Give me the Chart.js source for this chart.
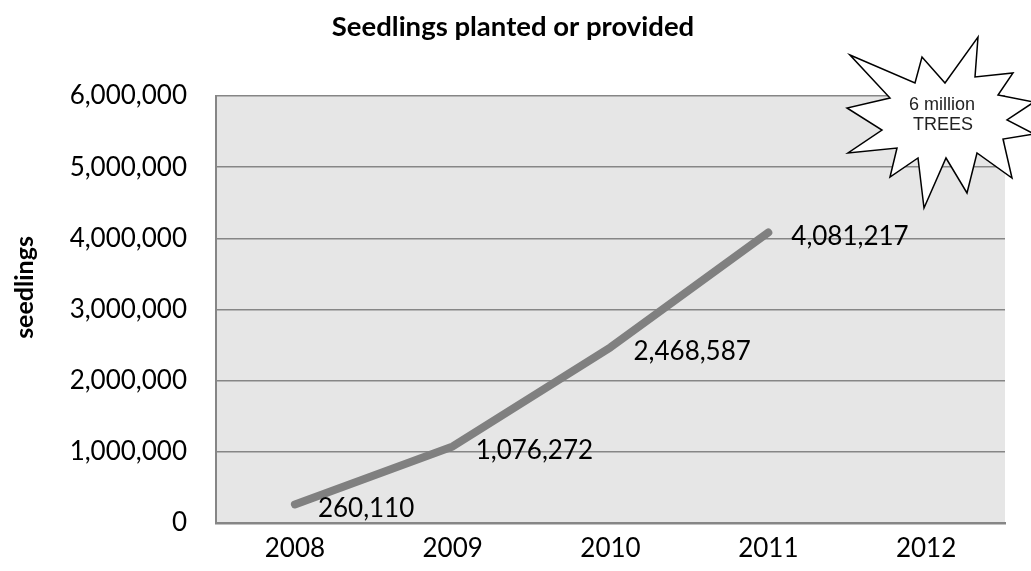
<!DOCTYPE html>
<html>
<head>
<meta charset="utf-8">
<title>Seedlings planted or provided</title>
<script src="https://cdn.jsdelivr.net/npm/chart.js@4/dist/chart.umd.min.js"></script>
<style>
  html, body { margin: 0; padding: 0; background: #fff; }
  #wrap { width: 1031px; height: 571px; position: relative; }
</style>
</head>
<body>
<div id="wrap"><canvas id="seedChart"></canvas></div>
<script>
// Chart data
const years = ["2008", "2009", "2010", "2011", "2012"];
const seedlings = [260110, 1076272, 2468587, 4081217, null];
const yTicks = [0, 1000000, 2000000, 3000000, 4000000, 5000000, 6000000];

const chartTitle = "Seedlings planted or provided";
const yTitle = "seedlings";
const burstLines = ["6 million", "TREES"];

const BODY_FONT = "Lato, 'Open Sans', sans-serif";
const GRID_GREY = "#868686";

const fmt = v => v.toLocaleString("en-US");

// Light grey fill behind the plot area
const plotBackground = {
  id: "plotBackground",
  beforeDraw(chart) {
    const { ctx, chartArea: a } = chart;
    ctx.save();
    ctx.fillStyle = "#e6e6e6";
    ctx.fillRect(a.left, a.top, a.right - a.left, a.bottom - a.top);
    ctx.restore();
  }
};

// Value labels to the right of each point
const valueLabels = {
  id: "valueLabels",
  afterDatasetsDraw(chart) {
    const { ctx } = chart;
    const meta = chart.getDatasetMeta(0);
    ctx.save();
    ctx.font = "26px " + BODY_FONT;
    ctx.fillStyle = "#000";
    ctx.textAlign = "left";
    ctx.textBaseline = "middle";
    meta.data.forEach((pt, i) => {
      const v = seedlings[i];
      if (v == null) return;
      ctx.fillText(fmt(v), pt.x + 23, pt.y + 4);
    });
    ctx.restore();
  }
};

// Chart heading and rotated axis title
const headings = {
  id: "headings",
  afterDraw(chart) {
    const { ctx, chartArea: a } = chart;
    ctx.save();
    ctx.fillStyle = "#000";
    ctx.textAlign = "center";
    ctx.textBaseline = "middle";

    ctx.font = "bold 27.5px " + BODY_FONT;
    ctx.fillText(chartTitle, 513, 27);

    ctx.translate(25, (a.top + a.bottom) / 2 - 22);
    ctx.rotate(-Math.PI / 2);
    ctx.font = "bold 25px " + BODY_FONT;
    ctx.fillText(yTitle, 0, 0);
    ctx.restore();
  }
};

// Starburst callout in the top right corner
const burstPoints = [
  [850, 55], [915, 83], [922, 57], [945, 83], [978, 37], [975, 77],
  [1013, 73], [998, 95], [1034, 102], [1007, 120], [1034, 134], [1003, 139],
  [1012, 178], [977, 153], [967, 193], [946, 158], [924, 208], [918, 158],
  [890, 177], [897, 148], [848, 153], [882, 130], [847, 108], [890, 98]
];

const starburst = {
  id: "starburst",
  afterDraw(chart) {
    const { ctx } = chart;
    ctx.save();
    ctx.beginPath();
    burstPoints.forEach(([x, y], i) => (i ? ctx.lineTo(x, y) : ctx.moveTo(x, y)));
    ctx.closePath();
    ctx.fillStyle = "#fff";
    ctx.fill();
    ctx.lineWidth = 1.5;
    ctx.lineJoin = "miter";
    ctx.strokeStyle = "#000";
    ctx.stroke();

    ctx.font = "18px 'Liberation Sans', Arial, sans-serif";
    ctx.fillStyle = "#222";
    ctx.textAlign = "center";
    ctx.textBaseline = "middle";
    ctx.fillText(burstLines[0], 942, 105);
    ctx.fillText(burstLines[1], 943, 125);
    ctx.restore();
  }
};

function buildChart() {
  const ctx = document.getElementById("seedChart").getContext("2d");
  new Chart(ctx, {
    type: "line",
    data: {
      labels: years,
      datasets: [{
        data: seedlings,
        borderColor: "#808080",
        borderWidth: 8,
        borderCapStyle: "round",
        borderJoinStyle: "round",
        pointRadius: 0,
        pointHoverRadius: 0,
        tension: 0,
        fill: false,
        spanGaps: false
      }]
    },
    options: {
      responsive: true,
      maintainAspectRatio: false,
      animation: false,
      events: [],
      // top padding leaves room for the heading drawn by the plugin
      layout: { padding: { left: 0, right: 26, top: 96, bottom: 0 } },
      plugins: {
        legend: { display: false },
        tooltip: { enabled: false },
        title: { display: false }
      },
      scales: {
        x: {
          offset: true,
          grid: { display: false, drawTicks: false },
          border: { display: true, color: GRID_GREY, width: 2.5 },
          ticks: {
            color: "#000",
            padding: 10,
            maxRotation: 0,
            font: { family: BODY_FONT, size: 26 }
          },
          afterFit(scale) { scale.height = 48; }
        },
        y: {
          min: 0,
          max: 6000000,
          afterBuildTicks(scale) { scale.ticks = yTicks.map(v => ({ value: v })); },
          grid: { color: GRID_GREY, lineWidth: 1.5, drawTicks: false },
          border: { display: true, color: GRID_GREY, width: 2 },
          ticks: {
            color: "#000",
            padding: 29,
            font: { family: BODY_FONT, size: 26 },
            callback: v => fmt(v)
          },
          afterFit(scale) { scale.width = 216; }
        }
      }
    },
    plugins: [plotBackground, valueLabels, headings, starburst]
  });
}

Promise.all([
  document.fonts.load("26px Lato"),
  document.fonts.load("bold 27.5px Lato"),
  document.fonts.load("18px 'Liberation Sans'")
]).then(buildChart, buildChart);
</script>
</body>
</html>
